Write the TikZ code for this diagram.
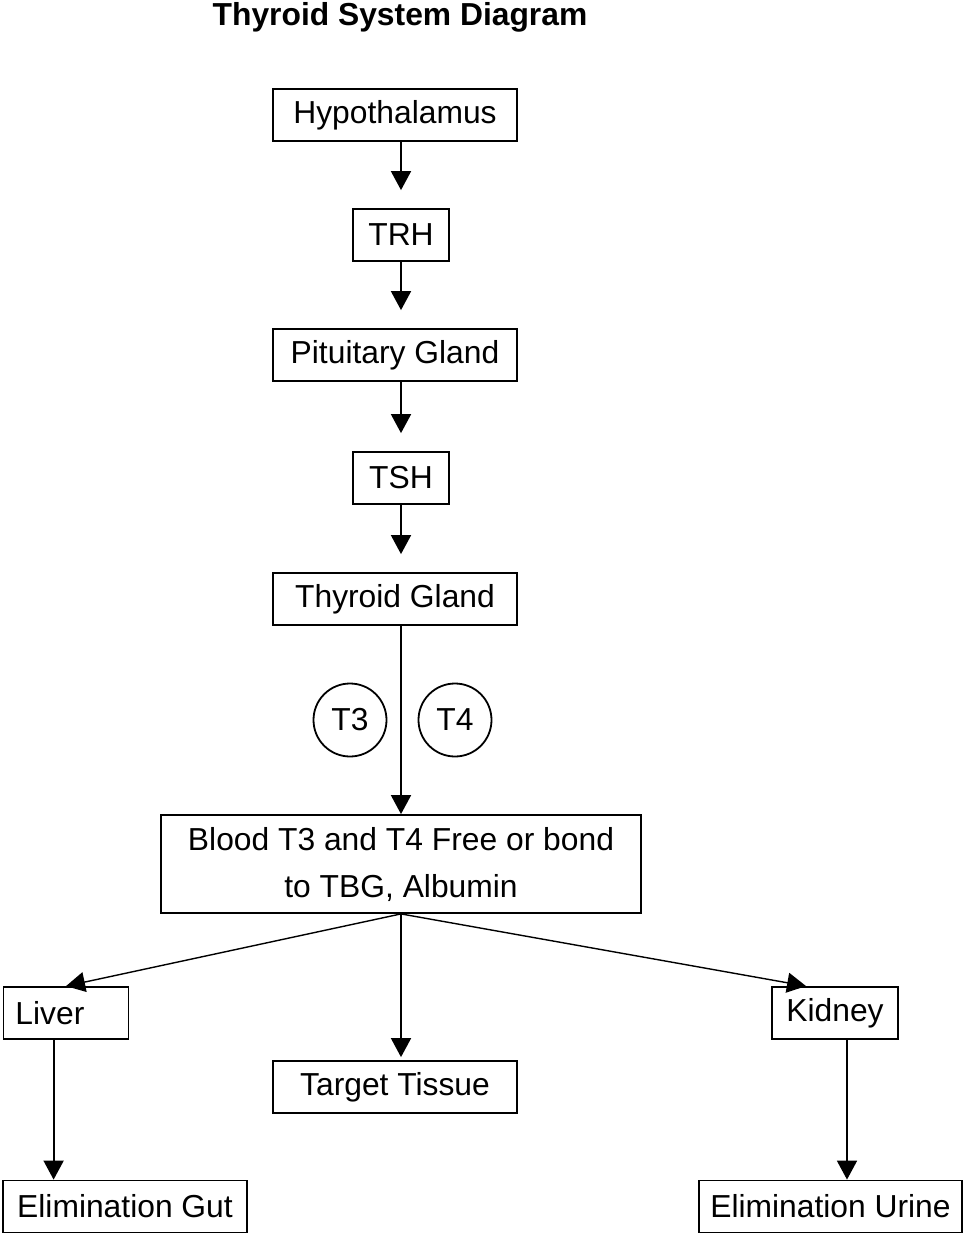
\documentclass[tikz,border=0pt]{standalone}
\usepackage{fontspec}
\setmainfont{Liberation Sans}
\usetikzlibrary{arrows.meta}
\begin{document}
\begin{tikzpicture}[x=0.5pt,y=-0.5pt,
  box/.style={draw=black, line width=0.9pt, minimum height=26pt, inner sep=0pt, font=\fontsize{15.9}{23.5}\selectfont},
  ring/.style={circle, draw=black, line width=0.9pt, minimum size=36.5pt, inner sep=0pt, font=\fontsize{15.9}{19}\selectfont},
  arr/.style={-{Triangle[length=9.5pt,width=10pt]}, line width=0.9pt, shorten >=9pt},
  lead/.style={-{Triangle[length=9.5pt,width=10pt]}, line width=0.9pt}]
\useasboundingbox (0,0) rectangle (965,1237);
\node [font=\fontsize{15.9}{19}\selectfont\bfseries] (title) at (400,17) {Thyroid System Diagram};
\node [box, minimum width=122pt] (hyp) at (395,115) {Hypothalamus};
\node [box, minimum width=48pt] (trh) at (401,235) {TRH};
\node [box, minimum width=122pt] (pit) at (395,355) {Pituitary Gland};
\node [box, minimum width=48pt] (tsh) at (401,478) {TSH};
\node [box, minimum width=122pt] (thy) at (395,599) {Thyroid Gland};
\node [ring] (t3) at (350,720) {T3};
\node [ring] (t4) at (455,720) {T4};
\node [box, minimum width=240pt, minimum height=49pt, align=center] (blood) at (401,864) {Blood T3 and T4 Free or bond\\to TBG, Albumin};
\node [box, inner xsep=6pt, text width=50.5pt, align=left] (liver) at (66,1013) {Liver};
\node [box, minimum width=122pt] (target) at (395,1087) {Target Tissue};
\node [box, minimum width=63pt] (kidney) at (835,1013) {Kidney};
\node [box, minimum width=122pt] (gut) at (125,1206.5) {Elimination Gut};
\node [box, minimum width=131.5pt] (urine) at (830.5,1206.5) {Elimination Urine};
\coordinate (lvout) at ([xshift=25.5pt]liver.south west);
\coordinate (kdout) at ([xshift=6pt]kidney.south);
\coordinate (kdin) at ([xshift=17.5pt]kidney.north west);
\draw [arr] (hyp.south -| trh) -- (trh.north);
\draw [arr] (trh.south) -- (pit.north -| trh);
\draw [arr] (pit.south -| tsh) -- (tsh.north);
\draw [arr] (tsh.south) -- (thy.north -| tsh);
\draw [lead] (thy.south -| blood) -- (blood.north);
\draw [lead, line width=0.7pt] (blood.south) -- (liver.north);
\draw [lead, shorten >=1.5pt] (blood.south) -- (target.north -| blood);
\draw [lead, line width=0.7pt] (blood.south) -- (kdin);
\draw [lead] (lvout) -- (lvout |- gut.north);
\draw [lead] (kdout) -- (kdout |- urine.north);
\end{tikzpicture}
\end{document}
